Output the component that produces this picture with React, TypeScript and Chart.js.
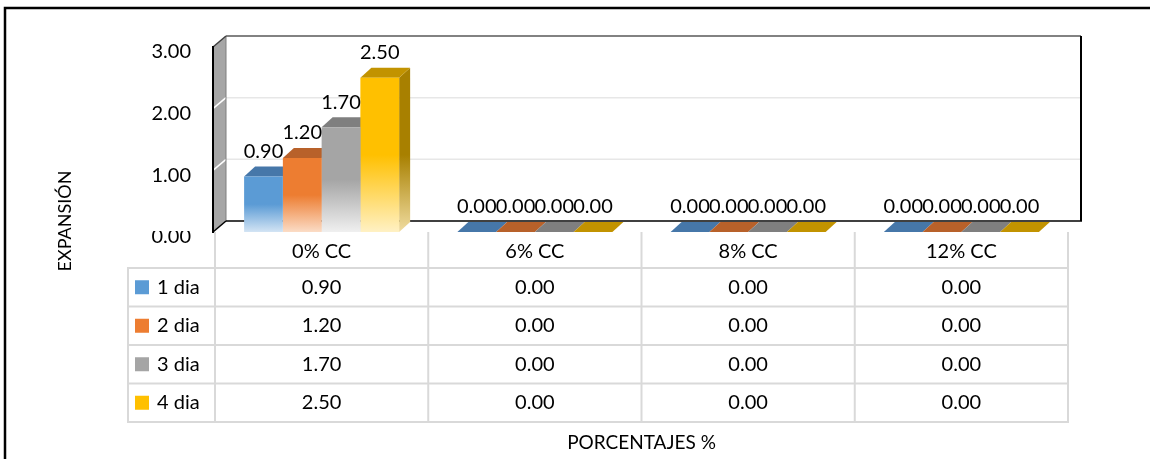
import React, { useEffect, useRef } from 'react';
import { Chart, registerables } from 'chart.js';
Chart.register(...registerables);

const categories = ['0% CC', '6% CC', '8% CC', '12% CC'];
const seriesNames = ['1 dia', '2 dia', '3 dia', '4 dia'];
const dia1 = [0.9, 0, 0, 0];
const dia2 = [1.2, 0, 0, 0];
const dia3 = [1.7, 0, 0, 0];
const dia4 = [2.5, 0, 0, 0];
const seriesValues = [dia1, dia2, dia3, dia4];
const yMin = 0;
const yMax = 3;
const yStep = 1;
const yTitle = 'EXPANSIÓN';
const xTitle = 'PORCENTAJES %';

const frontColors = ['#5b9bd5', '#ed7d31', '#a5a5a5', '#ffc000'];
const topColors = ['#4677a9', '#b8612a', '#7f7f7f', '#c29300'];
const sideColors = ['#3b6590', '#9c5222', '#6e6e6e', '#a88000'];
const fadeColors = ['#d3e4f4', '#fbdcc6', '#f0f0f0', '#fff1c4'];
const sideFadeColors = ['#b9cfe6', '#efc6a8', '#dcdcdc', '#f0dca0'];

const FONT = 'Lato, "Open Sans", sans-serif';
const BAR_D = { x: 11, y: -10 };
const WALL_D = { x: 13, y: -11 };

const poly = (ctx: CanvasRenderingContext2D, pts: number[][]) => {
  ctx.beginPath();
  ctx.moveTo(pts[0][0], pts[0][1]);
  for (let i = 1; i < pts.length; i++) ctx.lineTo(pts[i][0], pts[i][1]);
  ctx.closePath();
};
const line = (ctx: CanvasRenderingContext2D, x1: number, y1: number, x2: number, y2: number, color: string, w: number) => {
  ctx.beginPath();
  ctx.moveTo(x1, y1);
  ctx.lineTo(x2, y2);
  ctx.strokeStyle = color;
  ctx.lineWidth = w;
  ctx.stroke();
};

const threeD = {
  id: 'threeD',
  beforeDatasetsDraw(chart: any) {
    const { ctx, chartArea: a, scales } = chart;
    const y = scales.y;
    const L = a.left - 2;
    const R = a.right;
    const yTop = y.getPixelForValue(yMax);
    const yBot = y.getPixelForValue(yMin);
    ctx.save();
    for (let v = yMin + yStep; v < yMax; v += yStep) {
      const py = y.getPixelForValue(v) + WALL_D.y;
      line(ctx, L + WALL_D.x, py, R + WALL_D.x, py, '#e7e7e7', 1.5);
    }
    poly(ctx, [[L, yTop], [L + WALL_D.x, yTop + WALL_D.y], [L + WALL_D.x, yBot + WALL_D.y], [L, yBot]]);
    ctx.fillStyle = '#a6a6a6';
    ctx.fill();
    for (let v = yMin + yStep; v < yMax; v += yStep) {
      const py = y.getPixelForValue(v);
      line(ctx, L, py, L + WALL_D.x, py + WALL_D.y, '#ffffff', 1.5);
    }
    line(ctx, L + WALL_D.x, yTop + WALL_D.y, L + WALL_D.x, yBot + WALL_D.y, '#7f7f7f', 1);
    line(ctx, L, yTop, L + WALL_D.x, yTop + WALL_D.y, '#404040', 1.5);
    line(ctx, L, yBot, L + WALL_D.x, yBot + WALL_D.y, '#000000', 1.5);
    line(ctx, L, yTop - 1, L, yBot + 1, '#000000', 2);
    line(ctx, L + WALL_D.x, yTop + WALL_D.y, R + WALL_D.x, yTop + WALL_D.y, '#595959', 1.5);
    line(ctx, R + WALL_D.x, yTop + WALL_D.y, R + WALL_D.x, yBot + WALL_D.y, '#000000', 2);
    line(ctx, L + WALL_D.x, yBot + WALL_D.y, R + WALL_D.x + 1, yBot + WALL_D.y, '#000000', 1.5);
    chart.data.datasets.forEach((ds: any, i: number) => {
      const meta = chart.getDatasetMeta(i);
      meta.data.forEach((el: any) => {
        const xl = el.x - el.width / 2;
        const xr = el.x + el.width / 2;
        const top = el.y;
        const base = el.base;
        if (base - top > 0.5) {
          const g = ctx.createLinearGradient(0, top, 0, base);
          g.addColorStop(0, sideColors[i]);
          g.addColorStop(0.5, sideColors[i]);
          g.addColorStop(1, sideFadeColors[i]);
          poly(ctx, [[xr, top], [xr + BAR_D.x, top + BAR_D.y], [xr + BAR_D.x, base + BAR_D.y], [xr, base]]);
          ctx.fillStyle = g;
          ctx.fill();
        }
        poly(ctx, [[xl, top], [xr, top], [xr + BAR_D.x, top + BAR_D.y], [xl + BAR_D.x, top + BAR_D.y]]);
        ctx.fillStyle = topColors[i];
        ctx.fill();
      });
    });
    ctx.restore();
  },
  afterDatasetsDraw(chart: any) {
    const { ctx } = chart;
    ctx.save();
    ctx.font = `20px ${FONT}`;
    ctx.fillStyle = '#000';
    ctx.textAlign = 'center';
    ctx.textBaseline = 'middle';
    chart.data.datasets.forEach((ds: any, i: number) => {
      const meta = chart.getDatasetMeta(i);
      meta.data.forEach((el: any, j: number) => {
        ctx.fillText(Number(ds.data[j]).toFixed(2), el.x, el.y - 25);
      });
    });
    ctx.restore();
  },
  afterDraw(chart: any) {
    const { ctx, chartArea: a, scales } = chart;
    const xs = scales.x;
    ctx.save();
    ctx.fillStyle = '#fff';
    ctx.fillRect(140, 222, 60, 9);
    const tLeft = 128;
    const colW = (a.right - a.left) / categories.length;
    const rowTop = 268;
    const rowH = 38.5;
    const nRows = seriesNames.length;
    const tBottom = rowTop + rowH * nRows;
    const gridC = '#d9d9d9';
    for (let k = 0; k <= categories.length; k++) {
      const x = a.left + k * colW;
      line(ctx, x, a.bottom, x, tBottom + 1, gridC, 2);
    }
    line(ctx, tLeft, rowTop, tLeft, tBottom + 1, gridC, 2);
    for (let r = 0; r <= nRows; r++) {
      const yy = rowTop + r * rowH;
      line(ctx, tLeft - 1, yy, a.right + 1, yy, gridC, 2);
    }
    ctx.font = `20px ${FONT}`;
    ctx.fillStyle = '#000';
    ctx.textBaseline = 'middle';
    ctx.textAlign = 'center';
    categories.forEach((c, j) => {
      ctx.fillText(c, xs.getPixelForValue(j), (a.bottom + rowTop) / 2 + 2);
    });
    seriesNames.forEach((s, i) => {
      const cy = rowTop + rowH * (i + 0.5);
      ctx.fillStyle = frontColors[i];
      ctx.fillRect(135, cy - 7, 14, 14);
      ctx.fillStyle = '#000';
      ctx.textAlign = 'left';
      ctx.fillText(s, 157, cy);
      ctx.textAlign = 'center';
      seriesValues[i].forEach((v, j) => {
        ctx.fillText(v.toFixed(2), xs.getPixelForValue(j), cy);
      });
    });
    ctx.font = `19px ${FONT}`;
    ctx.fillText(xTitle, (a.left + a.right) / 2, 443);
    ctx.font = `18px ${FONT}`;
    ctx.save();
    ctx.translate(65, 221);
    ctx.rotate(-Math.PI / 2);
    ctx.fillText(yTitle, 0, 0);
    ctx.restore();
    ctx.strokeStyle = '#000';
    ctx.lineWidth = 2.5;
    ctx.strokeRect(5, 8, 1170, 480);
    ctx.restore();
  },
};

export default function App() {
  const ref = useRef<HTMLCanvasElement | null>(null);
  useEffect(() => {
    document.body.style.margin = '0';
    const canvas = ref.current;
    if (!canvas) return;
    const makeBg = (i: number) => (context: any) => {
      const chart = context.chart;
      const ys = chart.scales && chart.scales.y;
      if (!chart.chartArea || !ys || context.raw === undefined) return frontColors[i];
      const top = ys.getPixelForValue(context.raw);
      const bot = ys.getPixelForValue(0);
      if (bot - top < 1) return frontColors[i];
      const g = chart.ctx.createLinearGradient(0, top, 0, bot);
      g.addColorStop(0, frontColors[i]);
      g.addColorStop(0.5, frontColors[i]);
      g.addColorStop(1, fadeColors[i]);
      return g;
    };
    const chart = new Chart(canvas, {
      type: 'bar',
      data: {
        labels: categories,
        datasets: seriesValues.map((vals, i) => ({
          label: seriesNames[i],
          data: vals,
          backgroundColor: makeBg(i),
          borderWidth: 0,
          categoryPercentage: 0.727,
          barPercentage: 1,
        })),
      },
      options: {
        responsive: false,
        animation: false,
        events: [],
        layout: { padding: { left: 0, right: 82, top: 47, bottom: 0 } },
        plugins: { legend: { display: false }, tooltip: { enabled: false } },
        scales: {
          x: {
            type: 'category',
            ticks: { display: false },
            grid: { display: false },
            border: { display: false },
            afterFit: (s: any) => { s.height = 227; },
          },
          y: {
            min: yMin,
            max: yMax,
            ticks: {
              stepSize: yStep,
              padding: 24,
              labelOffset: 5,
              color: '#000',
              font: { family: FONT, size: 20 },
              callback: (v: any) => Number(v).toFixed(2),
            },
            grid: { display: false, drawTicks: false },
            border: { display: false },
            afterFit: (s: any) => { s.width = 215; },
          },
        },
      },
      plugins: [threeD],
    } as any);
    return () => chart.destroy();
  }, []);
  return (
    <div style={{ width: 1150, height: 459, position: 'relative', background: '#fff' }}>
      <canvas ref={ref} width={1150} height={459} style={{ display: 'block' }} />
    </div>
  );
}
